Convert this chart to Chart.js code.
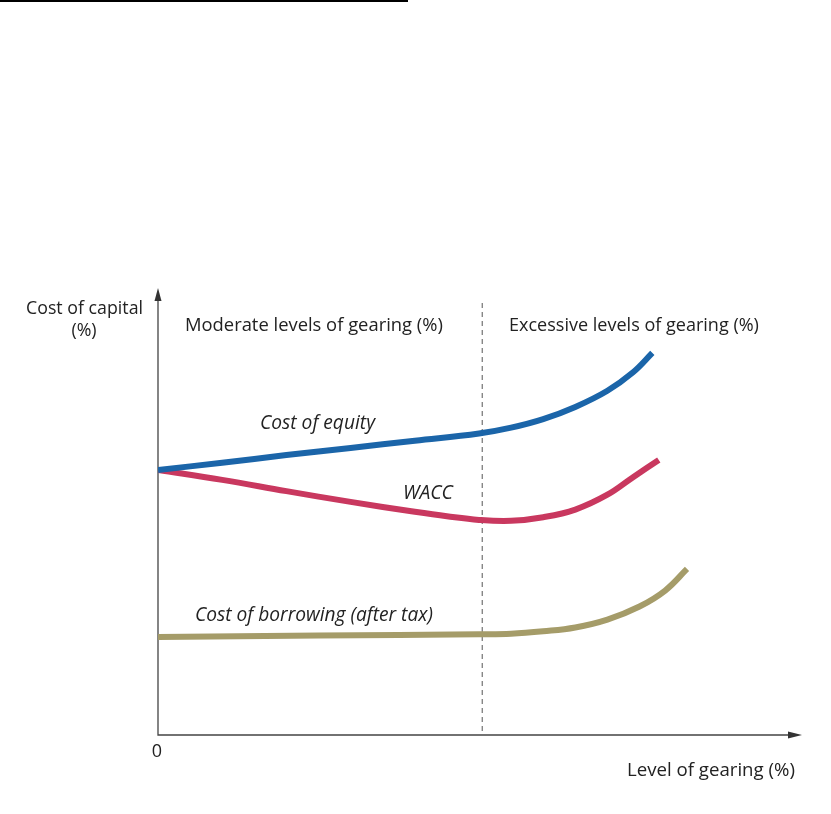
<!DOCTYPE html>
<html>
<head>
<meta charset="utf-8">
<script src="https://cdn.jsdelivr.net/npm/chart.js@4.4.1/dist/chart.umd.min.js"></script>
<style>
  html, body { margin: 0; padding: 0; background: #fff; }
  canvas { display: block; }
</style>
</head>
<body>
<canvas id="chart" width="831" height="814"></canvas>
<script>
// level of gearing (0-100) and cost of capital (0-100)
const equityX = [0, 10, 20, 30, 40, 50, 55, 60, 65, 70, 74, 77];
const equityY = [58.9, 60.5, 62.2, 63.8, 65.4, 67.0, 68.3, 70.2, 72.9, 76.5, 80.6, 84.9];

const waccX = [0, 10, 20, 30, 40, 45, 50, 55, 60, 65, 70, 74, 78];
const waccY = [58.9, 56.7, 54.2, 51.8, 49.6, 48.6, 47.8, 47.6, 48.4, 50.1, 53.4, 57.3, 61.1];

const borrowX = [0, 25, 50, 55, 60, 65, 70, 75, 79, 82.4];
const borrowY = [21.8, 22.1, 22.4, 22.5, 23.05, 23.9, 25.65, 28.55, 32.1, 36.9];

const boundaryX = 50.5; // moderate / excessive split

const seriesNames = ['Cost of equity', 'WACC', 'Cost of borrowing (after tax)'];
const yTitle = ['Cost of capital', '(%)'];
const xTitle = 'Level of gearing (%)';
const zoneLabels = ['Moderate levels of gearing (%)', 'Excessive levels of gearing (%)'];
const originLabel = '0';

const toPoints = (xs, ys) => xs.map((x, i) => ({ x: x, y: ys[i] }));

const FONT = '"Open Sans", "Noto Sans", sans-serif';

// fit text into a given width
function fitText(ctx, text, width, style) {
  ctx.font = style + ' 20px ' + FONT;
  const w = ctx.measureText(text).width;
  const size = 20 * width / w;
  ctx.font = style + ' ' + size.toFixed(2) + 'px ' + FONT;
}

const decor = {
  id: 'decor',
  beforeDatasetsDraw(chart) {
    const ctx = chart.ctx;
    const xs = chart.scales.x, ys = chart.scales.y;
    const x0 = xs.getPixelForValue(0), y0 = ys.getPixelForValue(0);
    const yTop = ys.getPixelForValue(100) + 3;
    const xEnd = xs.getPixelForValue(100);
    ctx.save();

    // top rule
    ctx.strokeStyle = '#000';
    ctx.lineWidth = 2;
    ctx.beginPath(); ctx.moveTo(0, 1); ctx.lineTo(408, 1); ctx.stroke();

    // axes
    ctx.strokeStyle = '#444';
    ctx.lineWidth = 1.3;
    ctx.beginPath();
    ctx.moveTo(x0, yTop + 8); ctx.lineTo(x0, y0); ctx.lineTo(xEnd - 10, y0);
    ctx.stroke();
    ctx.fillStyle = '#333';
    ctx.beginPath();
    ctx.moveTo(x0, yTop); ctx.lineTo(x0 - 3.5, yTop + 13); ctx.lineTo(x0 + 3.5, yTop + 13); ctx.closePath();
    ctx.fill();
    ctx.beginPath();
    ctx.moveTo(xEnd + 2, y0); ctx.lineTo(xEnd - 12, y0 - 3.5); ctx.lineTo(xEnd - 12, y0 + 3.5); ctx.closePath();
    ctx.fill();

    // dashed split
    const xb = xs.getPixelForValue(boundaryX);
    ctx.strokeStyle = '#555';
    ctx.lineWidth = 1;
    ctx.setLineDash([5, 4]);
    ctx.beginPath(); ctx.moveTo(xb, 303); ctx.lineTo(xb, y0); ctx.stroke();
    ctx.restore();
  },
  afterDraw(chart) {
    const ctx = chart.ctx;
    ctx.save();
    ctx.fillStyle = '#222';
    ctx.textBaseline = 'alphabetic';
    ctx.textAlign = 'left';

    fitText(ctx, yTitle[0], 117, 'normal');
    ctx.fillText(yTitle[0], 26, 314);
    ctx.textAlign = 'center';
    ctx.fillText(yTitle[1], 84, 336);

    ctx.textAlign = 'left';
    fitText(ctx, zoneLabels[0], 258, 'normal');
    ctx.fillText(zoneLabels[0], 185, 331);
    fitText(ctx, zoneLabels[1], 250, 'normal');
    ctx.fillText(zoneLabels[1], 509, 331);

    fitText(ctx, seriesNames[0], 115, 'italic');
    ctx.fillText(seriesNames[0], 260, 429);
    fitText(ctx, seriesNames[1], 50, 'italic');
    ctx.fillText(seriesNames[1], 403, 499);
    fitText(ctx, seriesNames[2], 238, 'italic');
    ctx.fillText(seriesNames[2], 195, 621);

    ctx.font = 'normal 18px ' + FONT;
    ctx.textAlign = 'center';
    ctx.fillText(originLabel, 157, 757);

    ctx.textAlign = 'left';
    fitText(ctx, xTitle, 168, 'normal');
    ctx.fillText(xTitle, 627, 776);
    ctx.restore();
  }
};

const lineStyle = {
  pointRadius: 0,
  borderWidth: 6,
  fill: false,
  tension: 0.4,
  borderCapStyle: 'butt',
  borderJoinStyle: 'round'
};

new Chart(document.getElementById('chart'), {
  type: 'line',
  data: {
    datasets: [
      Object.assign({ label: seriesNames[0], data: toPoints(equityX, equityY), borderColor: '#1b65a9' }, lineStyle),
      Object.assign({ label: seriesNames[1], data: toPoints(waccX, waccY), borderColor: '#c9385f' }, lineStyle),
      Object.assign({ label: seriesNames[2], data: toPoints(borrowX, borrowY), borderColor: '#a59c69' }, lineStyle)
    ]
  },
  options: {
    responsive: false,
    devicePixelRatio: 1,
    animation: false,
    layout: { padding: { left: 158, right: 31, top: 285, bottom: 79 } },
    plugins: { legend: { display: false }, tooltip: { enabled: false } },
    scales: {
      x: { type: 'linear', min: 0, max: 100, display: false },
      y: { type: 'linear', min: 0, max: 100, display: false }
    }
  },
  plugins: [decor]
});
</script>
</body>
</html>
